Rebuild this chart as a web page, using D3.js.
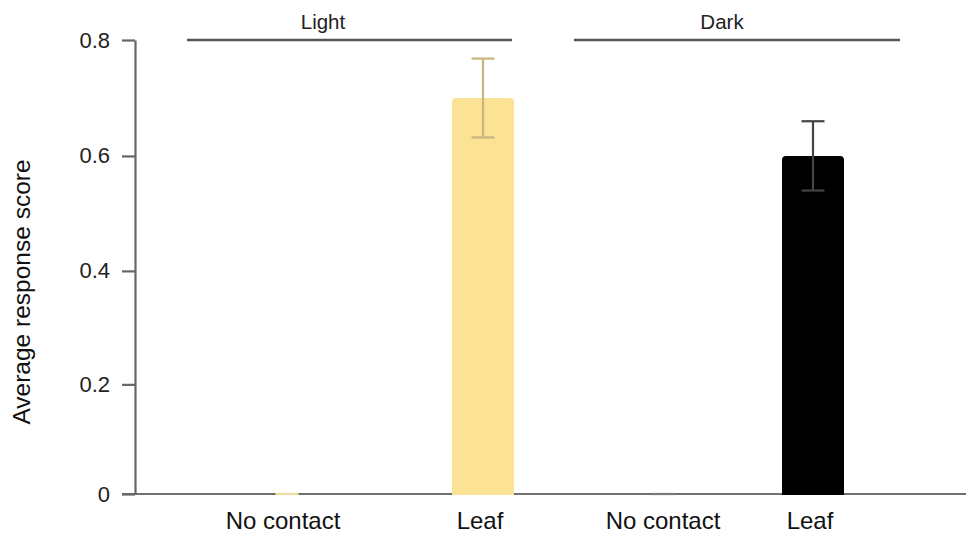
<!DOCTYPE html>
<html>
<head>
<meta charset="utf-8">
<script src="https://cdn.jsdelivr.net/npm/d3@7"></script>
<style>
  html, body { margin: 0; padding: 0; background: #fff; }
  svg { display: block; font-family: "Liberation Sans", Arial, sans-serif; }
</style>
</head>
<body>
<svg id="chart" width="968" height="533"></svg>
<script>
// Response scores by lighting condition and contact type
const groups = ["Light", "Dark"];
const categories = ["No contact", "Leaf"];
const lightMeans = [0, 0.70];
const lightErrors = [0, 0.068];
const darkMeans = [0, 0.60];
const darkErrors = [0, 0.06];
const yTicks = [0, 0.2, 0.4, 0.6, 0.8];
const yLabel = "Average response score";

const series = [
  { group: "Light", means: lightMeans, errors: lightErrors, fill: "#fce294", err: "#c6b57c", stub: "#f1dca0" },
  { group: "Dark",  means: darkMeans,  errors: darkErrors,  fill: "#000000", err: "#444444", stub: "#7a7a7a" }
];

const svg = d3.select("#chart");

// Layout
const axisX = 135, y0 = 494, yTop = 40;
const barW = 62, capW = 23;

// Vertical scale (slightly non-linear spacing of the value axis)
const y = d3.scalePow().exponent(1.025).domain([0, 0.8]).range([y0, yTop]);

// Category centres per group
const keys = ["Light|No contact", "Light|Leaf", "Dark|No contact", "Dark|Leaf"];
const x = d3.scaleOrdinal().domain(keys).range([287, 483, 663, 813]);
const labelX = d3.scaleOrdinal().domain(keys).range([283, 480, 663, 810]);

// Group brackets and their title positions
const bracket = d3.scaleOrdinal().domain(groups).range([[187, 512], [574, 900]]);
const groupLabelX = d3.scaleOrdinal().domain(groups).range([323, 722]);

// Baseline
svg.append("line")
  .attr("x1", 122).attr("x2", 966)
  .attr("y1", y(0)).attr("y2", y(0))
  .attr("stroke", "#707070").attr("stroke-width", 2);

// Y axis
const yAxis = d3.axisLeft(y).tickValues(yTicks)
  .tickFormat(d => d === 0 ? "0" : d3.format(".1f")(d))
  .tickSize(13).tickSizeOuter(0).tickPadding(12);
const gy = svg.append("g").attr("transform", `translate(${axisX},0)`).call(yAxis);
gy.select(".domain").attr("stroke", "#666").attr("stroke-width", 2.2);
gy.selectAll(".tick line").attr("stroke", "#666").attr("stroke-width", 2.2);
gy.selectAll(".tick text")
  .attr("fill", "#222").attr("font-size", 22)
  .attr("font-family", "'Liberation Sans', Arial, sans-serif");

// Y axis title
svg.append("text")
  .attr("transform", `translate(30, 292) rotate(-90)`)
  .attr("text-anchor", "middle")
  .attr("font-size", 24.5).attr("fill", "#111")
  .text(yLabel);

// Rounded-top bar path
function barPath(cx, top, bottom, w, r) {
  const x0 = cx - w / 2, x1 = cx + w / 2;
  const rr = Math.min(r, (bottom - top) / 2, w / 2);
  return `M${x0},${bottom}V${top + rr}Q${x0},${top} ${x0 + rr},${top}` +
         `H${x1 - rr}Q${x1},${top} ${x1},${top + rr}V${bottom}Z`;
}

series.forEach(s => {
  const rows = categories.map((c, i) => ({ key: `${s.group}|${c}`, cat: c, mean: s.means[i], err: s.errors[i] }));

  const g = svg.append("g");

  // Bars with a value: rounded-top rectangles
  g.selectAll("path.bar")
    .data(rows.filter(d => d.mean > 0))
    .join("path")
    .attr("class", "bar")
    .attr("d", d => barPath(x(d.key), y(d.mean), y(0) + 1, barW, 4))
    .attr("fill", s.fill);

  // Zero-valued bars show as a short stub on the baseline
  g.selectAll("line.stub")
    .data(rows.filter(d => d.mean === 0))
    .join("line")
    .attr("class", "stub")
    .attr("x1", d => x(d.key) - capW / 2).attr("x2", d => x(d.key) + capW / 2)
    .attr("y1", y(0)).attr("y2", y(0))
    .attr("stroke", s.stub).attr("stroke-width", 2.2);

  // Error bars
  const eb = g.selectAll("g.err")
    .data(rows.filter(d => d.err > 0))
    .join("g").attr("class", "err")
    .attr("stroke", s.err).attr("stroke-width", 2.2);
  eb.append("line")
    .attr("x1", d => x(d.key)).attr("x2", d => x(d.key))
    .attr("y1", d => y(d.mean + d.err)).attr("y2", d => y(d.mean - d.err));
  eb.append("line")
    .attr("x1", d => x(d.key) - capW / 2).attr("x2", d => x(d.key) + capW / 2)
    .attr("y1", d => y(d.mean + d.err)).attr("y2", d => y(d.mean + d.err));
  eb.append("line")
    .attr("x1", d => x(d.key) - capW / 2).attr("x2", d => x(d.key) + capW / 2)
    .attr("y1", d => y(d.mean - d.err)).attr("y2", d => y(d.mean - d.err));

  // Category labels
  g.selectAll("text.cat")
    .data(rows)
    .join("text")
    .attr("class", "cat")
    .attr("x", d => labelX(d.key))
    .attr("y", 529)
    .attr("text-anchor", "middle")
    .attr("font-size", 24).attr("fill", "#111")
    .text(d => d.cat);

  // Group bracket and title
  const [bx0, bx1] = bracket(s.group);
  svg.append("line")
    .attr("x1", bx0).attr("x2", bx1)
    .attr("y1", yTop).attr("y2", yTop)
    .attr("stroke", "#555").attr("stroke-width", 2.5);
  svg.append("text")
    .attr("x", groupLabelX(s.group))
    .attr("y", 29)
    .attr("text-anchor", "middle")
    .attr("font-size", 20.5).attr("fill", "#222")
    .text(s.group);
});
</script>
</body>
</html>
